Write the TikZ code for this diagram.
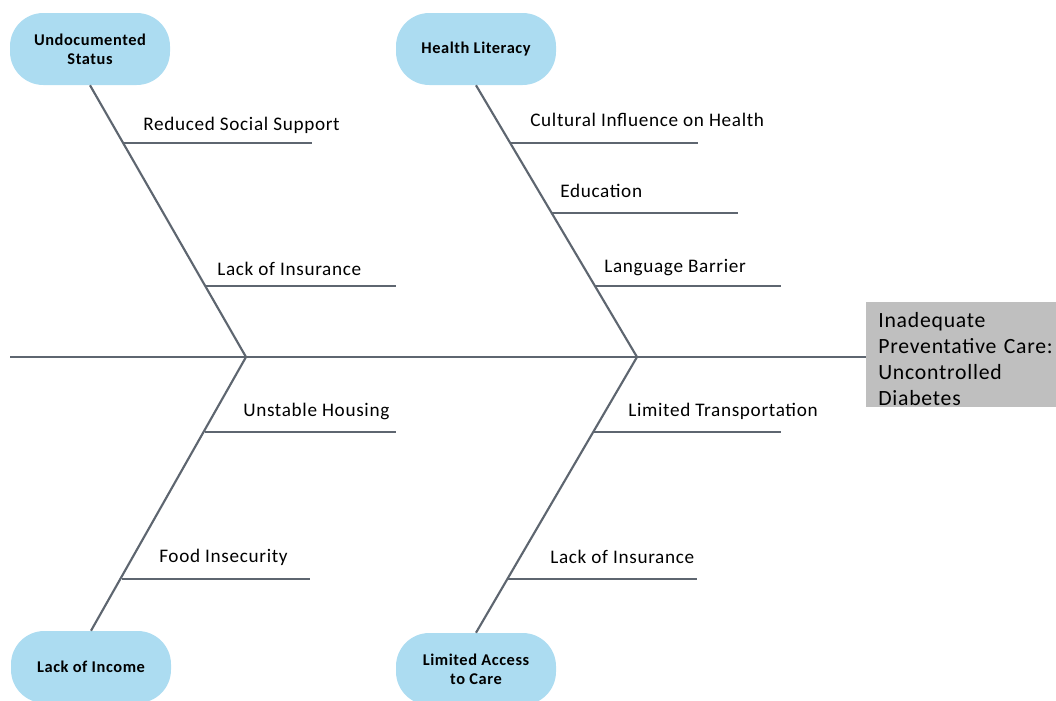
\documentclass[tikz,border=0pt]{standalone}
\usepackage{fontspec}
\setmainfont{Carlito}[LetterSpace=3.5]
\usetikzlibrary{calc}
\definecolor{bonegray}{HTML}{5E6670}
\definecolor{causeblue}{HTML}{ACDCF1}
\definecolor{effectgray}{HTML}{BFBFBF}
\tikzset{
  bone/.style={draw=bonegray, line width=1.6pt},
  cause/.style={fill=causeblue, rounded corners=25pt, minimum width=120pt,
    minimum height=54pt, inner sep=2pt, align=center,
    font=\bfseries\fontsize{12.3}{14.5}\selectfont},
  factor/.style={anchor=west, inner sep=0pt, font=\fontsize{14.4}{16}\selectfont},
  effectbox/.style={fill=effectgray, anchor=north west, inner sep=0pt,
    minimum width=146pt, minimum height=78.75pt},
  effect/.style={anchor=west, inner sep=0pt, text width=160pt, align=left,
    font=\fontsize{16.3}{19.5}\selectfont}
}
\begin{document}
\begin{tikzpicture}[x=0.75pt, y=-0.75pt]
\useasboundingbox (0,0) rectangle (1056,700);

% problem statement (fish head)
\node[effectbox] (eff) at (866,302) {};
\node[effect] (efftext) at (878,359) {Inadequate\\Preventative Care:\\Uncontrolled\\Diabetes};

% spine and bone junctions
\coordinate (tail) at (10,357);
\coordinate (j1) at (246,357);
\coordinate (j2) at (637,357);
\draw[bone] (tail) -- (eff.west |- tail);

% main causes
\node[cause] (undoc) at (90,49) {Undocumented\\Status};
\node[cause] (hlit) at (476,49) {Health Literacy};
\node[cause] (income) at (91,667) {Lack of Income};
\node[cause] (access) at (476,669) {Limited Access\\to Care};

\draw[bone] (undoc.south) -- (j1);
\draw[bone] (hlit.south) -- (j2);
\draw[bone] (j1) -- (income.north);
\draw[bone] (j2) -- (access.north);

% sub-causes: start on the bone, end at a free coordinate
\coordinate (a1) at (123,143);  \coordinate (a1e) at (312,143);
\coordinate (a2) at (205,286);  \coordinate (a2e) at (396,286);
\coordinate (b1) at (510,143);  \coordinate (b1e) at (698,143);
\coordinate (b2) at (552,213);  \coordinate (b2e) at (738,213);
\coordinate (b3) at (595,286);  \coordinate (b3e) at (781,286);
\coordinate (c1) at (205,432);  \coordinate (c1e) at (396,432);
\coordinate (c2) at (122,579);  \coordinate (c2e) at (310,579);
\coordinate (d1) at (594,432);  \coordinate (d1e) at (781,432);
\coordinate (d2) at (508,579);  \coordinate (d2e) at (697,579);

\foreach \s in {a1,a2,b1,b2,b3,c1,c2,d1,d2}
  \draw[bone] (\s) -- (\s e);

\node[factor] (ta1) at (143,125) {Reduced Social Support};
\node[factor] (ta2) at (217,269) {Lack of Insurance};
\node[factor] (tb1) at (530,120) {Cultural Influence on Health};
\node[factor] (tb2) at (560,191) {Education};
\node[factor] (tb3) at (604,268) {Language Barrier};
\node[factor] (tc1) at (243,411) {Unstable Housing};
\node[factor] (tc2) at (159,557) {Food Insecurity};
\node[factor] (td1) at (628,411) {Limited Transportation};
\node[factor] (td2) at (550,557) {Lack of Insurance};
\end{tikzpicture}
\end{document}
